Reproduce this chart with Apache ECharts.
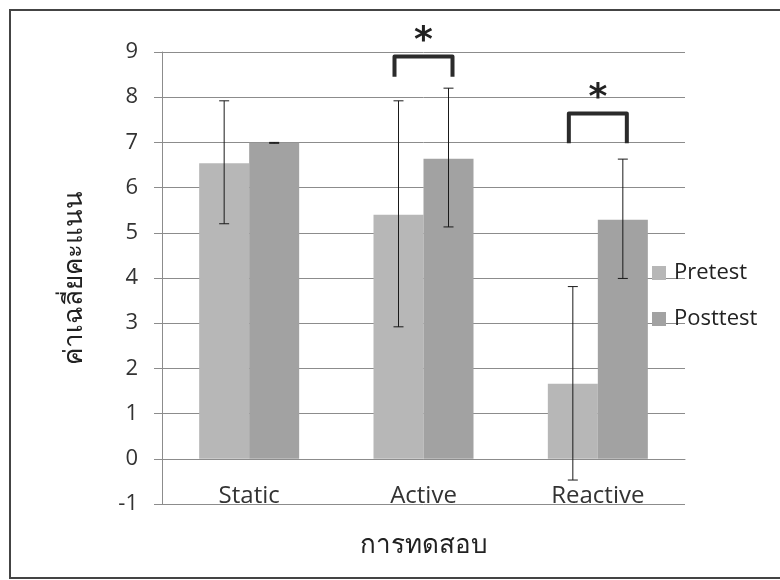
<!DOCTYPE html>
<html lang="th">

<head>
    <meta charset="UTF-8">
    <title>ค่าเฉลี่ยคะแนน</title>
    <style>
        html, body { margin: 0; padding: 0; background: #fff; }
        #chart { width: 780px; height: 580px; }
    </style>
    <script src="https://cdn.jsdelivr.net/npm/echarts@6/dist/echarts.min.js"></script>
</head>

<body>
    <div id="chart"></div>

    <script>
        // values
        var categories = ['Static', 'Active', 'Reactive'];
        var pretest = [6.54, 5.40, 1.66];
        var posttest = [6.99, 6.64, 5.29];
        // error bar ends (low, high)
        var preLow = [5.20, 2.92, -0.47];
        var preHigh = [7.92, 7.92, 3.81];
        var postLow = [6.98, 5.13, 3.99];
        var postHigh = [7.00, 8.20, 6.63];
        // significance brackets: category index, top of bracket, end of legs
        var sigCats = [1, 2];
        var sigTop = [8.90, 7.64];
        var sigLeg = [8.45, 6.98];

        var yMin = -1, yMax = 9;
        var font = '"Open Sans", "Noto Sans", sans-serif';
        var barW = 50;
        var gridTop = 52, gridBottom = 76;
        // the category axis sits on the zero line
        var zeroShift = (580 - gridTop - gridBottom) / (yMax - yMin) * (0 - yMin);

        function errRows(lo, hi) {
            return lo.map(function (v, i) { return [i, v, hi[i]]; });
        }

        function errorBar(offset) {
            return function (params, api) {
                var a = api.coord([api.value(0), api.value(1)]);
                var b = api.coord([api.value(0), api.value(2)]);
                var x = a[0] + offset;
                var st = { stroke: '#1a1a1a', lineWidth: 1 };
                return {
                    type: 'group',
                    children: [
                        { type: 'line', shape: { x1: x, y1: a[1], x2: x, y2: b[1] }, style: st },
                        { type: 'line', shape: { x1: x - 5, y1: a[1], x2: x + 5, y2: a[1] }, style: st },
                        { type: 'line', shape: { x1: x - 5, y1: b[1], x2: x + 5, y2: b[1] }, style: st }
                    ]
                };
            };
        }

        function bracket(params, api) {
            var top = api.coord([api.value(0), api.value(1)]);
            var leg = api.coord([api.value(0), api.value(2)]);
            var cx = top[0], hw = 29;
            return {
                type: 'group',
                children: [
                    {
                        type: 'polyline',
                        shape: { points: [[cx - hw, leg[1]], [cx - hw, top[1]], [cx + hw, top[1]], [cx + hw, leg[1]]] },
                        style: { stroke: '#2b2b2b', lineWidth: 4, fill: null, lineJoin: 'round' }
                    },
                    {
                        type: 'text',
                        style: {
                            text: '*', x: cx, y: top[1] - 15,
                            textAlign: 'center', textVerticalAlign: 'middle',
                            fontSize: 36, fontWeight: 'bold', fontFamily: 'DejaVu Sans', fill: '#222'
                        }
                    }
                ]
            };
        }

        var myChart = echarts.init(document.getElementById('chart'));

        var option = {
            backgroundColor: '#fff',
            animation: false,
            graphic: [{
                type: 'rect',
                shape: { x: 10, y: 10, width: 800, height: 568 },
                style: { fill: null, stroke: '#444', lineWidth: 2 }
            }],
            grid: { left: 162, right: 95, top: gridTop, bottom: gridBottom, outerBoundsMode: 'none' },
            legend: {
                data: ['Pretest', 'Posttest'],
                orient: 'vertical',
                left: 647,
                top: 257,
                icon: 'rect',
                itemWidth: 14,
                itemHeight: 14,
                itemGap: 24,
                textStyle: { fontSize: 22, color: '#222', fontFamily: font, padding: [0, 0, 0, 3] }
            },
            xAxis: {
                type: 'category',
                data: categories,
                name: 'การทดสอบ',
                nameLocation: 'middle',
                nameGap: 74,
                nameTextStyle: { fontSize: 26, color: '#222', fontFamily: font },
                offset: -zeroShift,
                axisLine: { onZero: false, lineStyle: { color: '#8c8c8c' } },
                axisTick: { length: 8, lineStyle: { color: '#8c8c8c' } },
                axisLabel: { fontSize: 24, color: '#333', margin: 25, fontFamily: font }
            },
            yAxis: {
                type: 'value',
                min: yMin,
                max: yMax,
                interval: 1,
                name: 'ค่าเฉลี่ยคะแนน',
                nameLocation: 'middle',
                nameGap: 74,
                nameTextStyle: { fontSize: 26, color: '#222', fontFamily: font },
                axisLine: { show: true, lineStyle: { color: '#8c8c8c' } },
                axisTick: { show: true, length: 8, lineStyle: { color: '#8c8c8c' } },
                axisLabel: { fontSize: 22, color: '#333', margin: 24, fontFamily: font },
                splitLine: { lineStyle: { color: '#8c8c8c' } }
            },
            series: [
                {
                    name: 'Pretest',
                    type: 'bar',
                    data: pretest,
                    barWidth: barW,
                    barGap: '0%',
                    itemStyle: { color: '#b7b7b7' }
                },
                {
                    name: 'Posttest',
                    type: 'bar',
                    data: posttest,
                    barWidth: barW,
                    itemStyle: { color: '#a2a2a2' }
                },
                {
                    type: 'custom',
                    renderItem: errorBar(-barW / 2),
                    data: errRows(preLow, preHigh),
                    clip: false,
                    z: 5
                },
                {
                    type: 'custom',
                    renderItem: errorBar(barW / 2),
                    data: errRows(postLow, postHigh),
                    clip: false,
                    z: 5
                },
                {
                    type: 'custom',
                    renderItem: bracket,
                    data: sigCats.map(function (c, i) { return [c, sigTop[i], sigLeg[i]]; }),
                    clip: false,
                    z: 6
                }
            ]
        };

        myChart.setOption(option);
    </script>
</body>

</html>
